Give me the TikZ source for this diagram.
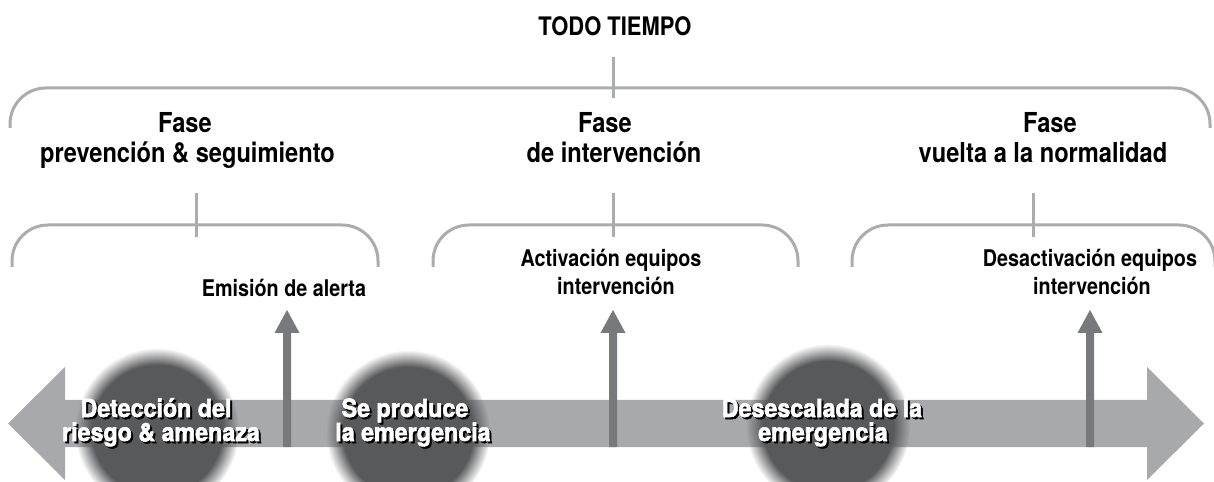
\documentclass[tikz,border=0pt]{standalone}
\usepackage{fontspec}
\setmainfont[FakeStretch=0.86]{TeX Gyre Heros}
\newfontfamily\heavyfont[FakeStretch=0.93,BoldFeatures={FakeBold=2.2}]{TeX Gyre Heros}
\usetikzlibrary{fadings}
\definecolor{bandgray}{RGB}{167,169,172}
\definecolor{arrowgray}{RGB}{120,121,124}
\definecolor{circdark}{RGB}{88,89,91}
\definecolor{brkgray}{RGB}{170,172,175}
\pgfdeclareradialshading{blurshade}{\pgfpointorigin}{color(0bp)=(pgftransparent!0); color(19.8bp)=(pgftransparent!0); color(22.4bp)=(pgftransparent!50); color(25bp)=(pgftransparent!100); color(50bp)=(pgftransparent!100)}
\pgfdeclarefading{blurdisc}{\pgfuseshading{blurshade}}
\tikzset{
  brk/.style={draw=brkgray, line width=3bp, rounded corners=36bp},
  tick/.style={draw=brkgray, line width=3bp},
  ttl/.style={font=\bfseries\fontsize{27.5bp}{30bp}\selectfont, anchor=base, inner sep=0pt},
  toptl/.style={font=\bfseries\fontsize{25.5bp}{30bp}\selectfont, anchor=base, inner sep=0pt},
  lbl/.style={font=\bfseries\fontsize{23bp}{28bp}\selectfont, anchor=base, inner sep=0pt},
  evt/.style={font=\heavyfont\bfseries\fontsize{25bp}{24bp}\selectfont, anchor=base, inner sep=0pt, text=white},
  evtsh/.style={evt, text=black},
  blob/.style={fill=circdark, path fading=blurdisc},
  uparr/.style={fill=arrowgray},
}
\begin{document}
\begin{tikzpicture}[x=1bp,y=-1bp]
\useasboundingbox (0,0) rectangle (1214,482);
% big double arrow band
\fill[bandgray] (65,400) -- (65,367) -- (8,423.5) -- (65,480) -- (65,447)
  -- (1147,447) -- (1147,480) -- (1204,423.5) -- (1147,367) -- (1147,400) -- cycle;
% blurred discs
\coordinate (c1) at (157,430);
\coordinate (c2) at (408,432);
\coordinate (c3) at (828,426);
\fill[blob] (c1) circle (82bp);
\fill[blob] (c2) circle (82bp);
\fill[blob] (c3) circle (82bp);
% vertical arrows
\coordinate (a1) at (287,447);
\coordinate (a2) at (613,447);
\coordinate (a3) at (1090,447);
\foreach \a in {a1,a2,a3}{
  \fill[uparr] (\a) ++(-4,0) -- ++(0,-114) -- ++(-8.5,0) -- ++(12.5,-23)
    -- ++(12.5,23) -- ++(-8.5,0) -- ++(0,114) -- cycle;
}
% top text and bracket
\node[toptl] (todo) at (615,36) {TODO TIEMPO};
\coordinate (t0a) at (613,57);
\coordinate (t0b) at (613,98);
\draw[tick] (t0a) -- (t0b);
\draw[brk] (10,128) -- (10,88) -- (1210,88) -- (1210,128);
% phase titles
\node[ttl] (p1a) at (185,133) {Fase};
\node[ttl] (p1b) at (187.5,163) {prevención \& seguimiento};
\node[ttl] (p2a) at (605,133) {Fase};
\node[ttl] (p2b) at (614,163) {de intervención};
\node[ttl] (p3a) at (1050,133) {Fase};
\node[ttl] (p3b) at (1043,163) {vuelta a la normalidad};
% mid brackets
\coordinate (t1a) at (196,193); \coordinate (t1b) at (196,237);
\coordinate (t2a) at (613,193); \coordinate (t2b) at (613,237);
\coordinate (t3a) at (1033,193); \coordinate (t3b) at (1033,237);
\draw[tick] (t1a) -- (t1b);
\draw[tick] (t2a) -- (t2b);
\draw[tick] (t3a) -- (t3b);
\draw[brk] (12,267) -- (12,225) -- (378,225) -- (378,267);
\draw[brk] (433,267) -- (433,225) -- (798,225) -- (798,267);
\draw[brk] (852,267) -- (852,225) -- (1215,225) -- (1215,267);
% labels
\node[lbl] (l1) at (284,297) {Emisión de alerta};
\node[lbl] (l2a) at (611,267) {Activación equipos};
\node[lbl] (l2b) at (616,295) {intervención};
\node[lbl] (l3a) at (1090,267) {Desactivación equipos};
\node[lbl] (l3b) at (1092,295) {intervención};
% event texts with shadow
\node[evtsh] (e1as) at (158,419) {Detección del};
\node[evtsh] (e1bs) at (163,443) {riesgo \& amenaza};
\node[evtsh] (e2as) at (407,419) {Se produce};
\node[evtsh] (e2bs) at (415,443) {la emergencia};
\node[evtsh] (e3as) at (824,419) {Desescalada de la};
\node[evtsh] (e3bs) at (825,443) {emergencia};
\node[evt] (e1a) at (156,417) {Detección del};
\node[evt] (e1b) at (161,441) {riesgo \& amenaza};
\node[evt] (e2a) at (405,417) {Se produce};
\node[evt] (e2b) at (413,441) {la emergencia};
\node[evt] (e3a) at (822,417) {Desescalada de la};
\node[evt] (e3b) at (823,441) {emergencia};
\end{tikzpicture}
\end{document}
